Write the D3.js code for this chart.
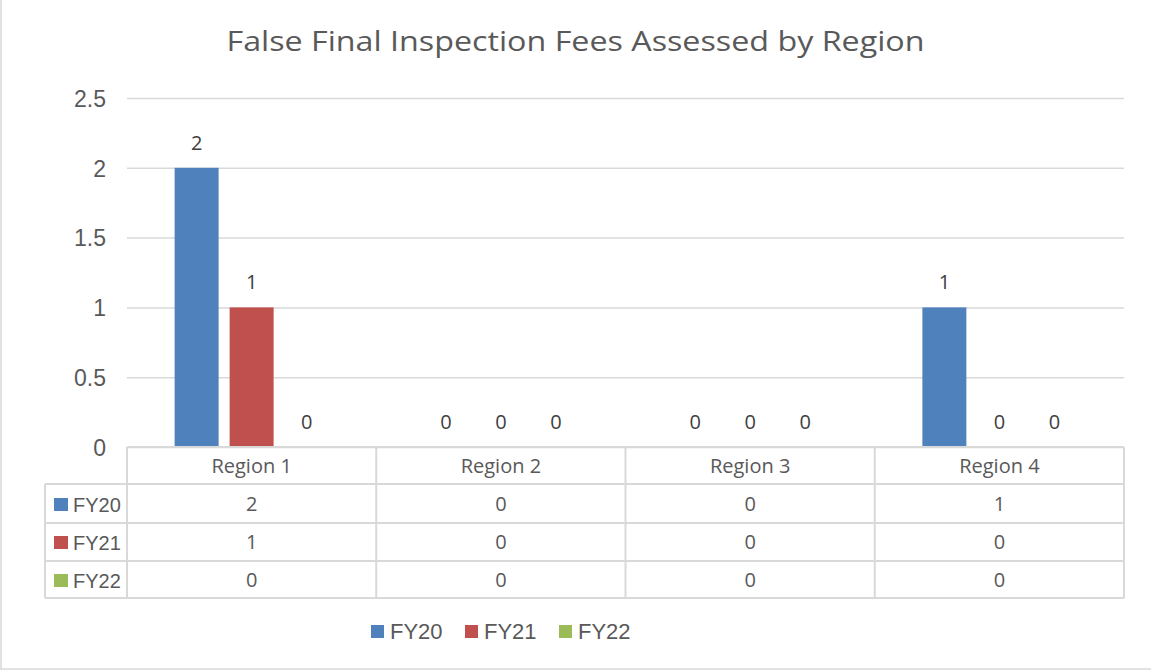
<!DOCTYPE html>
<html><head><meta charset="utf-8">
<script src="https://cdn.jsdelivr.net/npm/d3@7"></script>
<style>body{margin:0;background:#fff}svg{display:block}</style>
</head><body>
<script>
const title = "False Final Inspection Fees Assessed by Region";
const regions = ["Region 1", "Region 2", "Region 3", "Region 4"];
const seriesNames = ["FY20", "FY21", "FY22"];
const fy20 = [2, 0, 0, 1];
const fy21 = [1, 0, 0, 0];
const fy22 = [0, 0, 0, 0];
const seriesColors = ["#4f81bd", "#c0504d", "#9bbb59"];
const yTicks = [0, 0.5, 1, 1.5, 2, 2.5];

const series = seriesNames.map((n, i) => ({name: n, values: [fy20, fy21, fy22][i], color: seriesColors[i]}));

const W = 1151, H = 671;
const svg = d3.select("body").append("svg").attr("width", W).attr("height", H);

const grid = "#d9d9d9";
const plotL = 127, plotR = 1124, plotT = 98, plotB = 447;
const tableL = 45, rowH = 38;

// outer border
svg.append("line").attr("x1",1).attr("x2",1).attr("y1",0).attr("y2",669).attr("stroke",grid).attr("stroke-width",1.5);
svg.append("line").attr("x1",0).attr("x2",W).attr("y1",669).attr("y2",669).attr("stroke",grid).attr("stroke-width",1.5);

// title
svg.append("text").attr("x", W/2).attr("y", 51).attr("text-anchor","middle")
  .attr("font-family","Open Sans").attr("font-size",27).attr("fill","#595959")
  .attr("textLength",698).attr("lengthAdjust","spacingAndGlyphs").text(title);

const x0 = d3.scaleBand().domain(regions).range([plotL, plotR]).padding(0);
const groupW = 165;
const x1 = d3.scaleBand().domain(seriesNames)
  .range([x0.bandwidth()/2 - groupW/2, x0.bandwidth()/2 + groupW/2])
  .paddingInner(0.2).paddingOuter(0.1);
const y = d3.scaleLinear().domain([0, 2.5]).range([plotB, plotT]);

// gridlines
const yAxis = d3.axisLeft(y).tickValues(yTicks).tickSize(-(plotR-plotL)).tickFormat(d3.format("~g")).tickPadding(21);
const ga = svg.append("g").attr("transform",`translate(${plotL},0)`).call(yAxis);
ga.select(".domain").remove();
ga.selectAll(".tick line").attr("stroke",grid).attr("stroke-width",1.5);
ga.selectAll(".tick text").attr("font-family","Liberation Sans, Arial").attr("font-size",23).attr("fill","#595959").attr("dy","0.36em");

// bars
const g = svg.append("g");
regions.forEach((r, ri) => {
  series.forEach(s => {
    const v = s.values[ri];
    const bx = x0(r) + x1(s.name);
    g.append("rect").attr("x", bx).attr("y", y(v)).attr("width", x1.bandwidth())
      .attr("height", y(0) - y(v)).attr("fill", s.color);
    g.append("text").attr("x", bx + x1.bandwidth()/2).attr("y", y(v) - 18)
      .attr("text-anchor","middle").attr("font-family","Open Sans").attr("font-size",20)
      .attr("fill","#404040").text(v);
  });
});

// data table
const t = svg.append("g");
const tLine = (x1_, y1_, x2_, y2_) => t.append("line").attr("x1",x1_).attr("y1",y1_).attr("x2",x2_).attr("y2",y2_).attr("stroke",grid).attr("stroke-width",2);
const tableB = plotB + rowH * (series.length + 1) - 1;
// horizontals
tLine(plotL, plotB, plotR, plotB);
series.forEach((s, i) => {
  const yy = plotB + rowH*(i+1) - (i===0?1:0);
  tLine(tableL, yy, plotR, yy);
});
tLine(tableL, tableB, plotR, tableB);
// verticals
tLine(tableL, plotB + rowH - 1, tableL, tableB);
x0.domain().forEach(r => tLine(x0(r), plotB, x0(r), tableB));
tLine(plotR, plotB, plotR, tableB);

// header
regions.forEach(r => {
  t.append("text").attr("x", x0(r) + x0.bandwidth()/2).attr("y", plotB + 26)
    .attr("text-anchor","middle").attr("font-family","Open Sans").attr("font-size",20)
    .attr("fill","#595959").text(r);
});
// rows
series.forEach((s, i) => {
  const rowTop = plotB + rowH*(i+1);
  t.append("rect").attr("x", 54).attr("y", rowTop + 13).attr("width", 14).attr("height", 13).attr("fill", s.color);
  t.append("text").attr("x", 73).attr("y", rowTop + 27).attr("font-family","Liberation Sans, Arial")
    .attr("font-size",20).attr("fill","#595959").text(s.name);
  regions.forEach((r, ri) => {
    t.append("text").attr("x", x0(r) + x0.bandwidth()/2).attr("y", rowTop + 26)
      .attr("text-anchor","middle").attr("font-family","Open Sans").attr("font-size",20)
      .attr("fill","#595959").text(s.values[ri]);
  });
});

// legend
const lg = svg.append("g");
series.forEach((s, i) => {
  const lx = 371 + i*94;
  lg.append("rect").attr("x", lx).attr("y", 625).attr("width", 13).attr("height", 13).attr("fill", s.color);
  lg.append("text").attr("x", lx + 19).attr("y", 639).attr("font-family","Liberation Sans, Arial")
    .attr("font-size",22).attr("fill","#595959").text(s.name);
});
</script>
</body></html>
